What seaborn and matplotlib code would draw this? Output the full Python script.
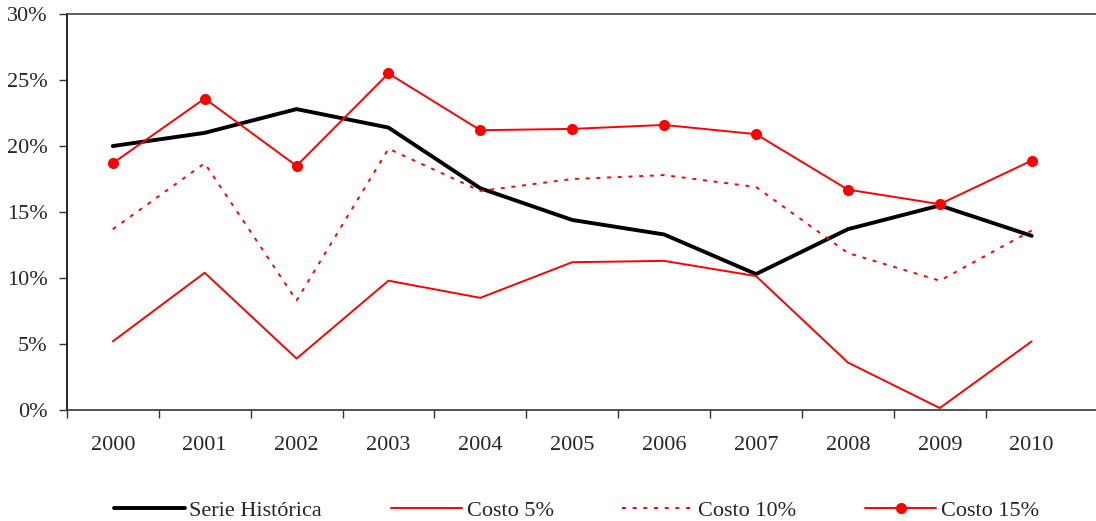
import numpy as np
import pandas as pd
import matplotlib
matplotlib.use("Agg")
import matplotlib.pyplot as plt
import seaborn as sns
from matplotlib.ticker import FuncFormatter

years = ["2000", "2001", "2002", "2003", "2004", "2005", "2006", "2007", "2008", "2009", "2010"]
serie_historica = [20.0, 21.0, 22.8, 21.4, 16.8, 14.4, 13.3, 10.3, 13.7, 15.5, 13.2]
costo_5 = [5.2, 10.4, 3.9, 9.8, 8.5, 11.2, 11.3, 10.15, 3.6, 0.15, 5.2]
costo_10 = [13.7, 18.7, 8.3, 19.8, 16.6, 17.5, 17.8, 16.9, 11.9, 9.8, 13.6]
costo_15 = [18.7, 23.6, 18.5, 25.5, 21.2, 21.3, 21.6, 20.9, 16.7, 15.6, 18.9]

sns.set_style("white")
plt.rcParams["font.family"] = ["Liberation Serif", "DejaVu Serif"]
plt.rcParams["font.size"] = 16

pos = np.arange(len(years))
df = pd.DataFrame({"pos": pos, "hist": serie_historica, "c5": costo_5,
                   "c10": costo_10, "c15": costo_15})

fig = plt.figure(figsize=(10.96, 5.21), dpi=100)
ax = fig.add_axes([0.061, 0.213, 0.939, 0.760])

sns.lineplot(data=df, x="pos", y="hist", ax=ax, color="black", linewidth=2.8,
             label="Serie Histórica")
sns.lineplot(data=df, x="pos", y="c5", ax=ax, color="#ff0000", linewidth=1.4,
             label="Costo 5%")
sns.lineplot(data=df, x="pos", y="c10", ax=ax, color="#ff0000", linewidth=1.4,
             label="Costo 10%")
ax.lines[-1].set_dashes((2, 3.5))
sns.lineplot(data=df, x="pos", y="c15", ax=ax, color="#ff0000", linewidth=1.4,
             marker="o", markersize=8, markeredgewidth=0, label="Costo 15%")

ax.set_ylim(0, 30)
ax.set_yticks(np.arange(0, 31, 5))
ax.yaxis.set_major_formatter(FuncFormatter(lambda v, p: f"{int(v)}%"))
ax.set_xlim(-0.5, 10.7)
ax.set_xticks(np.arange(-0.5, 10, 1.0))
ax.set_xticklabels([])
ax.set_xticks(pos, minor=True)
ax.set_xticklabels(years, minor=True)
ax.tick_params(axis="x", which="major", bottom=True, direction="out", length=6,
               width=1, color="#333333")
ax.tick_params(axis="x", which="minor", bottom=True, length=0, pad=19)
ax.tick_params(axis="y", left=True, direction="out", length=6, width=1, pad=8,
               color="#333333")
ax.set_xlabel("")
ax.set_ylabel("")

for side in ["left", "bottom", "top"]:
    ax.spines[side].set_visible(True)
    ax.spines[side].set_linewidth(1.2)
ax.spines["left"].set_color("black")
ax.spines["bottom"].set_color("#333333")
ax.spines["top"].set_color("#444444")
ax.spines["right"].set_visible(False)

leg = ax.legend(loc="center", bbox_to_anchor=(0.495, -0.255), ncol=4, frameon=False,
                handlelength=3.2, handletextpad=0.2, columnspacing=3.1, fontsize=16)

fig.savefig("out.png", dpi=100)
